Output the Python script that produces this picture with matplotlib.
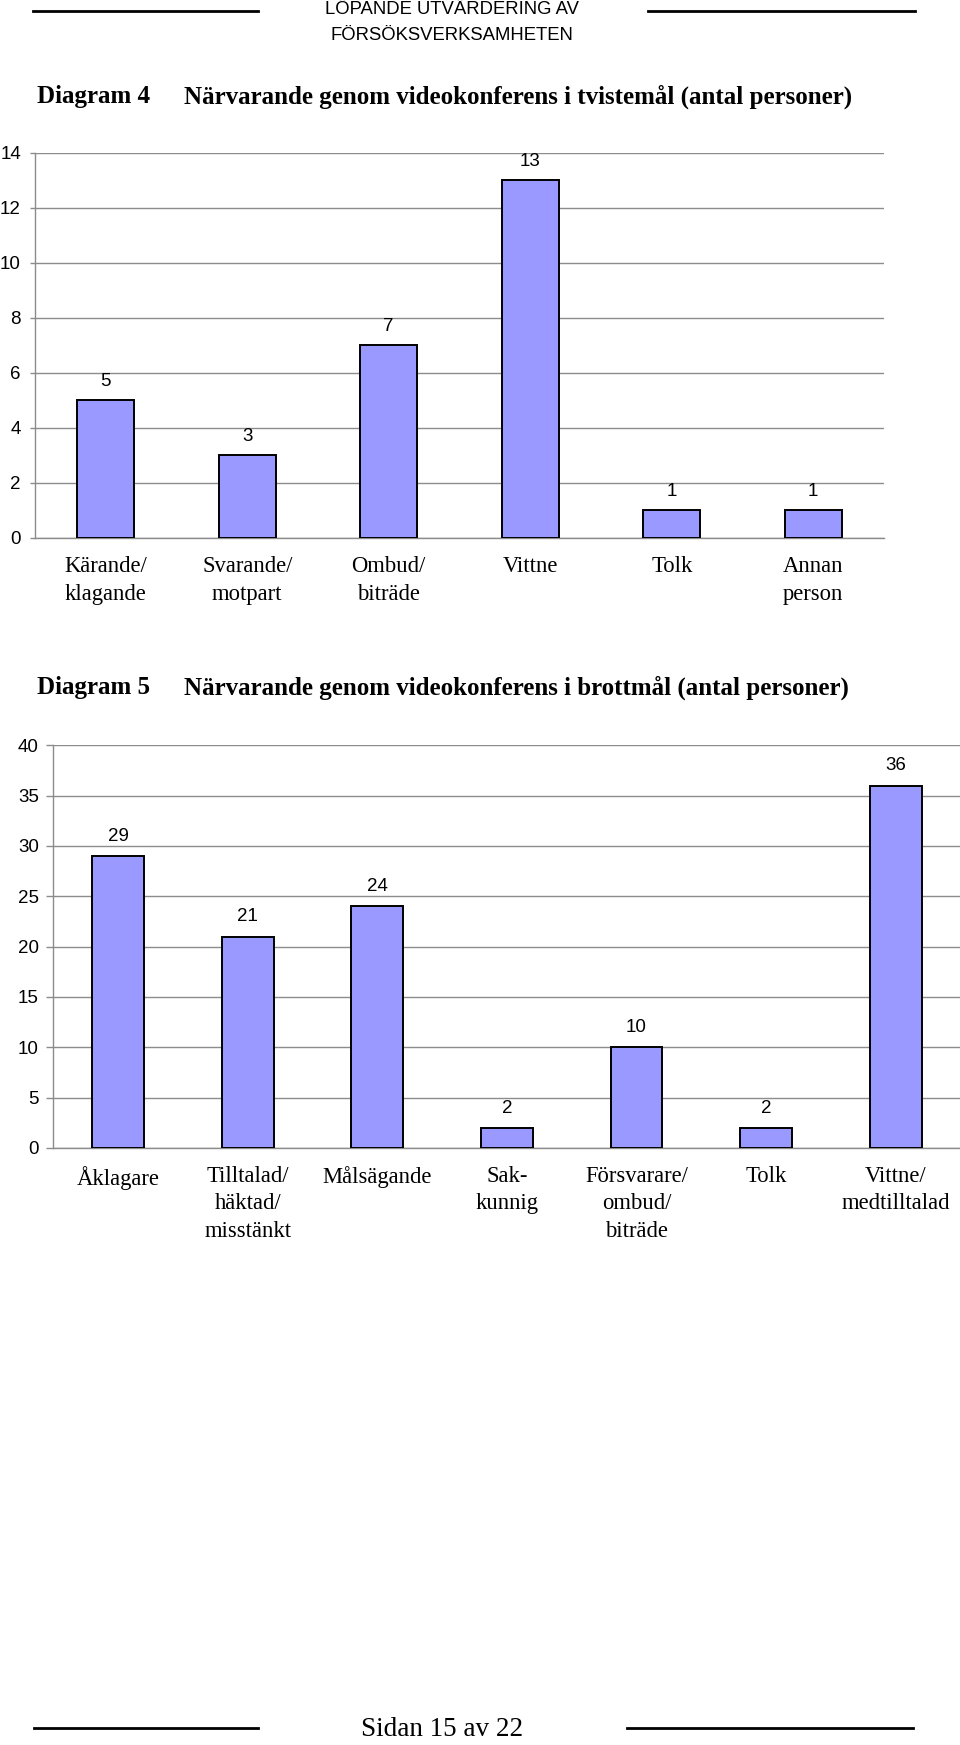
import matplotlib.pyplot as plt
from matplotlib.ticker import MultipleLocator

# Diagram 4 - tvistemål
cats4 = ["Kärande/\nklagande", "Svarande/\nmotpart", "Ombud/\nbiträde",
         "Vittne", "Tolk", "Annan\nperson"]
vals4 = [5, 3, 7, 13, 1, 1]

# Diagram 5 - brottmål
cats5 = ["Åklagare", "Tilltalad/\nhäktad/\nmisstänkt", "Målsägande", "Sak-\nkunnig",
         "Försvarare/\nombud/\nbiträde", "Tolk", "Vittne/\nmedtilltalad"]
vals5 = [29, 21, 24, 2, 10, 2, 36]

BAR = "#9999ff"
GRID = "#8c8c8c"
SANS = "Liberation Sans"
SERIF = "Liberation Serif"

W, H = 960, 1745
fig = plt.figure(figsize=(W / 100, H / 100), dpi=100)


def px(x, y):
    # pixel coords (top-left origin) -> figure fraction
    return x / W, 1 - y / H


def hline(x0, x1, y, lw=2.0):
    fig.add_artist(plt.Line2D([x0 / W, x1 / W], [1 - y / H, 1 - y / H],
                              color="black", lw=lw, transform=fig.transFigure))


def bar_chart(rect, cats, vals, ymax, step, tick_len, tick_pad, lab_off, linesp):
    ax = fig.add_axes(rect)
    x = range(len(cats))
    bars = ax.bar(x, vals, width=0.40, color=BAR, edgecolor="black", linewidth=1.4, zorder=3)
    for b, v in zip(bars, vals):
        ax.annotate(str(v), (b.get_x() + b.get_width() / 2, v), xytext=(0, lab_off),
                    textcoords="offset points", ha="center", va="baseline",
                    fontsize=13.5, family=SANS)
    ax.set_xlim(-0.5, len(cats) - 0.5)
    ax.set_ylim(0, ymax)
    ax.yaxis.set_major_locator(MultipleLocator(step))
    ax.grid(axis="y", color=GRID, lw=1.0, zorder=0)
    ax.set_axisbelow(True)
    for s in ("top", "right"):
        ax.spines[s].set_visible(False)
    for s in ("left", "bottom"):
        ax.spines[s].set_color(GRID)
        ax.spines[s].set_linewidth(1.0)
    ax.tick_params(axis="y", length=tick_len, width=1.0, color=GRID, pad=tick_pad,
                   labelsize=13.5)
    for t in ax.get_yticklabels():
        t.set_family(SANS)
    ax.set_xticks(list(x))
    ax.set_xticklabels(cats, fontsize=16.3, family=SERIF, linespacing=linesp)
    ax.tick_params(axis="x", length=0, pad=13)
    ax.patch.set_visible(False)
    return ax


# header
hline(33, 258, 11)
hline(648, 915, 11)
fig.text(*px(452, 9), "LÖPANDE UTVÄRDERING AV", ha="center", va="center",
         fontsize=13.3, family=SANS)
fig.text(*px(452, 36), "FÖRSÖKSVERKSAMHETEN", ha="center", va="center",
         fontsize=13.3, family=SANS)

# titles
fig.text(*px(37, 97), "Diagram 4", ha="left", va="center", fontsize=18,
         family=SERIF, weight="bold")
fig.text(*px(184, 97), "Närvarande genom videokonferens i tvistemål (antal personer)",
         ha="left", va="center", fontsize=18, family=SERIF, weight="bold")
fig.text(*px(37, 688), "Diagram 5", ha="left", va="center", fontsize=18,
         family=SERIF, weight="bold")
fig.text(*px(184, 688), "Närvarande genom videokonferens i brottmål (antal personer)",
         ha="left", va="center", fontsize=18, family=SERIF, weight="bold")

# charts
bar_chart([35 / W, 1 - 537.7 / H, 849 / W, 385 / H], cats4, vals4, 14, 2,
          3.6, 6.5, 10, 1.45)
bar_chart([53.4 / W, 1 - 1148 / H, 907 / W, 402.7 / H], cats5, vals5, 40, 5,
          5, 5.5, 11, 1.4)

# footer
hline(34, 258, 1728)
hline(627, 913, 1728)
fig.text(*px(442, 1730), "Sidan 15 av 22", ha="center", va="center",
         fontsize=19.5, family=SERIF)

fig.savefig("out.png", dpi=100)
